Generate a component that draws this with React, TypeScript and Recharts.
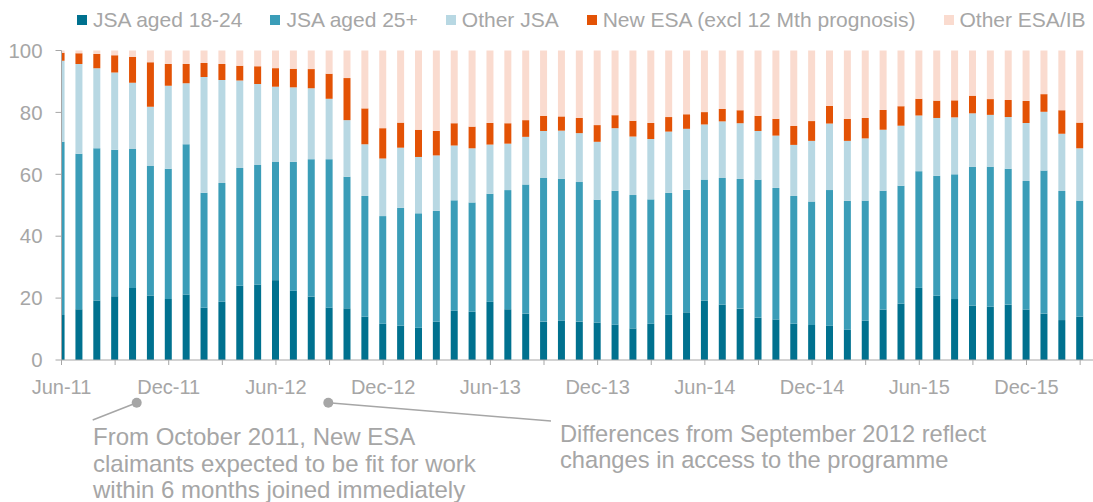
import React from 'react';
import { BarChart, Bar, XAxis, YAxis, Legend } from 'recharts';

const months = [
  'Jun-11', 'Jul-11', 'Aug-11', 'Sep-11', 'Oct-11', 'Nov-11', 'Dec-11',
  'Jan-12', 'Feb-12', 'Mar-12', 'Apr-12', 'May-12', 'Jun-12', 'Jul-12', 'Aug-12', 'Sep-12', 'Oct-12', 'Nov-12', 'Dec-12',
  'Jan-13', 'Feb-13', 'Mar-13', 'Apr-13', 'May-13', 'Jun-13', 'Jul-13', 'Aug-13', 'Sep-13', 'Oct-13', 'Nov-13', 'Dec-13',
  'Jan-14', 'Feb-14', 'Mar-14', 'Apr-14', 'May-14', 'Jun-14', 'Jul-14', 'Aug-14', 'Sep-14', 'Oct-14', 'Nov-14', 'Dec-14',
  'Jan-15', 'Feb-15', 'Mar-15', 'Apr-15', 'May-15', 'Jun-15', 'Jul-15', 'Aug-15', 'Sep-15', 'Oct-15', 'Nov-15', 'Dec-15',
  'Jan-16', 'Feb-16', 'Mar-16',
];

// shares of referrals, %
const jsa1824 = [
  14.5, 16.4, 19.2, 20.6, 23.3, 20.8, 19.7, 21.2, 16.9, 18.8, 24.0, 24.4, 25.8, 22.4, 20.5, 16.9, 16.7, 14.0, 11.7,
  11.1, 10.4, 12.4, 15.9, 15.6, 18.8, 16.4, 15.0, 12.4, 12.7, 12.4, 12.1, 11.4, 10.2, 11.7, 14.6, 15.4, 19.2, 17.9,
  16.6, 13.7, 13.1, 11.7, 11.3, 11.1, 9.8, 12.7, 16.3, 18.2, 23.3, 20.8, 19.7, 17.6, 17.2, 17.9, 16.3, 15.0, 12.9, 14.0,
];
const jsa25 = [
  56.0, 50.2, 49.2, 47.3, 44.9, 41.9, 42.1, 48.5, 37.1, 38.4, 38.0, 38.6, 38.3, 41.6, 44.4, 48.0, 42.5, 39.0, 34.8,
  38.1, 37.0, 35.8, 35.7, 35.3, 34.9, 38.5, 41.7, 46.4, 45.8, 45.1, 39.7, 43.3, 43.1, 40.2, 39.4, 39.6, 39.1, 40.9,
  41.9, 44.5, 42.5, 41.3, 39.9, 43.8, 41.6, 38.8, 38.4, 38.1, 37.7, 38.7, 40.3, 44.8, 45.2, 43.9, 41.5, 46.2, 41.7, 37.5,
];
const otherJsa = [
  26.2, 29.0, 25.9, 25.0, 21.4, 19.1, 26.8, 19.7, 37.4, 33.3, 28.3, 26.2, 24.2, 24.1, 22.9, 19.5, 18.3, 16.7, 18.6,
  19.4, 18.2, 17.9, 17.7, 17.5, 15.9, 15.0, 15.4, 15.2, 15.6, 15.8, 18.7, 20.2, 18.9, 19.5, 19.8, 19.7, 17.8, 18.3,
  18.0, 15.8, 16.9, 16.5, 19.6, 21.5, 19.4, 20.1, 19.7, 19.4, 18.0, 18.7, 18.4, 17.3, 16.8, 16.7, 18.8, 19.0, 18.5, 16.9,
];
const newEsa = [
  2.6, 3.5, 4.6, 5.6, 8.3, 14.4, 7.0, 6.2, 4.6, 5.1, 4.8, 5.7, 6.0, 6.0, 6.2, 8.1, 13.6, 11.6, 9.8,
  8.1, 8.8, 7.9, 7.2, 7.0, 7.0, 6.6, 5.4, 4.9, 4.6, 4.9, 5.4, 4.2, 5.1, 5.2, 4.7, 4.7, 4.0, 4.0,
  4.2, 4.9, 5.4, 6.1, 6.4, 5.7, 7.1, 6.6, 6.4, 6.3, 5.4, 5.6, 5.5, 5.7, 5.1, 5.5, 7.1, 5.7, 7.6, 8.3,
];
const otherEsa = [
  0.7, 0.9, 1.1, 1.5, 2.1, 3.8, 4.4, 4.4, 4.0, 4.4, 4.9, 5.1, 5.7, 5.9, 6.0, 7.5, 8.9, 18.7, 25.1,
  23.3, 25.6, 26.0, 23.5, 24.6, 23.4, 23.5, 22.5, 21.1, 21.3, 21.8, 24.1, 20.9, 22.7, 23.4, 21.5, 20.6, 19.9, 18.9,
  19.3, 21.1, 22.1, 24.4, 22.8, 17.9, 22.1, 21.8, 19.2, 18.0, 15.6, 16.2, 16.1, 14.6, 15.7, 16.0, 16.3, 14.1, 19.3, 23.3,
];

const yTicks = [0, 20, 40, 60, 80, 100];
const xTicks = months.map((_, i) => i).filter((i) => i % 3 === 0);

const series = [
  { key: 'jsa1824', name: 'JSA aged 18-24', color: '#00718f' },
  { key: 'jsa25', name: 'JSA aged 25+', color: '#3b9db8' },
  { key: 'otherJsa', name: 'Other JSA', color: '#b8d8e3' },
  { key: 'newEsa', name: 'New ESA (excl 12 Mth prognosis)', color: '#e35205' },
  { key: 'otherEsa', name: 'Other ESA/IB', color: '#fadbcf' },
];

const data = months.map((m, i) => ({
  idx: i,
  month: m,
  jsa1824: jsa1824[i],
  jsa25: jsa25[i],
  otherJsa: otherJsa[i],
  newEsa: newEsa[i],
  otherEsa: otherEsa[i],
}));

const grey = '#a6a6a6';
const font = 'Arial, "Liberation Sans", sans-serif';

const renderLegend = () => (
  <div style={{ display: 'flex', alignItems: 'center', paddingLeft: 77, fontSize: 21, lineHeight: '24px', color: grey, whiteSpace: 'nowrap' }}>
    {series.map((s) => (
      <span key={s.key} style={{ display: 'inline-flex', alignItems: 'center', marginRight: 28 }}>
        <span style={{ display: 'inline-block', width: 10, height: 10, background: s.color, marginRight: 6 }} />
        {s.name}
      </span>
    ))}
  </div>
);

export default function App() {
  return (
    <div style={{ position: 'fixed', left: 0, top: 0, width: 1093, height: 502, background: '#fff', fontFamily: font, overflow: 'hidden' }}>
      <BarChart width={1093} height={502} data={data} barSize={7} margin={{ top: 50.5, right: 0, bottom: 102, left: 0 }}>
        <XAxis
          type="number"
          dataKey="idx"
          domain={[0, 57.72]}
          ticks={xTicks}
          interval={0}
          allowDataOverflow
          tickFormatter={(v: number) => (v % 6 === 0 ? months[v] : '')}
          tickSize={5}
          tickMargin={15}
          height={40}
          stroke={grey}
          tick={{ fill: grey, fontSize: 20, fontFamily: font }}
        />
        <YAxis
          domain={[0, 100]}
          ticks={yTicks}
          interval={0}
          width={61.5}
          tickSize={6}
          tickMargin={13}
          stroke={grey}
          tick={{ fill: grey, fontSize: 20.4, fontFamily: font }}
        />
        <Legend verticalAlign="middle" align="center" content={renderLegend} wrapperStyle={{ top: 8, left: 0, width: 1093 }} />
        {series.map((s) => (
          <Bar key={s.key} dataKey={s.key} name={s.name} stackId="a" fill={s.color} isAnimationActive={false} />
        ))}
      </BarChart>
      <svg width={1093} height={502} style={{ position: 'absolute', left: 0, top: 0, pointerEvents: 'none' }}>
        <line x1={136.7} y1={402.7} x2={92.7} y2={420} stroke={grey} strokeWidth={1.5} />
        <circle cx={136.7} cy={402.7} r={5} fill={grey} />
        <line x1={328.3} y1={402.7} x2={551} y2={421} stroke={grey} strokeWidth={1.5} />
        <circle cx={328.3} cy={402.7} r={5} fill={grey} />
        <text x={93} fill={grey} fontSize={24} fontFamily={font}>
          <tspan x={93} y={445}>From October 2011, New ESA</tspan>
          <tspan x={93} y={471.5}>claimants expected to be fit for work</tspan>
          <tspan x={93} y={498}>within 6 months joined immediately</tspan>
        </text>
        <text x={560} fill={grey} fontSize={23.7} fontFamily={font}>
          <tspan x={560} y={441.7}>Differences from September 2012 reflect</tspan>
          <tspan x={560} y={468.3}>changes in access to the programme</tspan>
        </text>
      </svg>
    </div>
  );
}
